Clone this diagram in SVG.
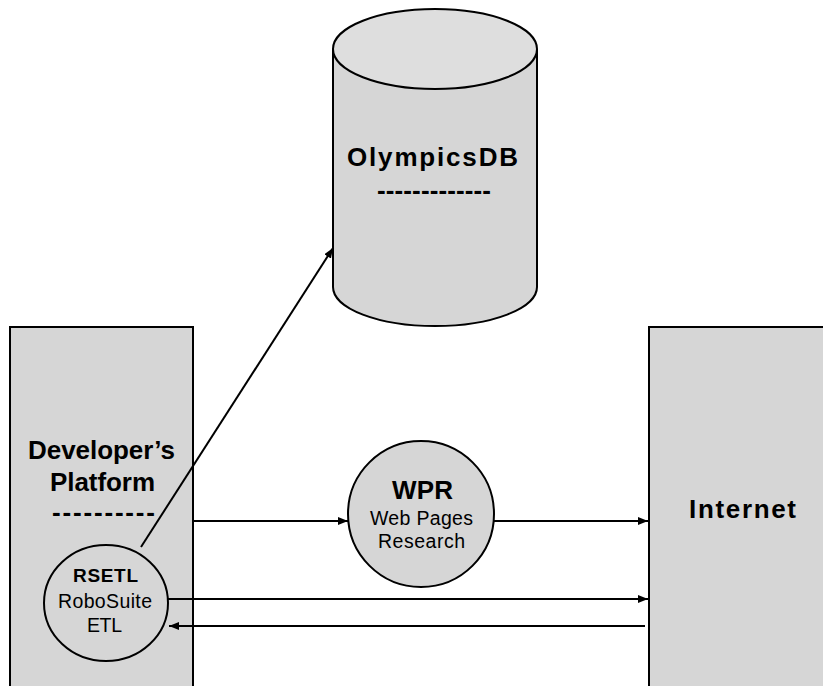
<svg xmlns="http://www.w3.org/2000/svg" width="823" height="686" viewBox="0 0 823 686">
  <style>
    .shape { fill: #d6d6d6; stroke: #000; stroke-width: 2; }
    .cap { fill: #dedede; stroke: #000; stroke-width: 2; }
    .edge { fill: none; stroke: #000; stroke-width: 2; }
    .lbl { font-family: "Liberation Sans", Arial, Helvetica, sans-serif; fill: #000; text-anchor: middle; }
    .big { font-size: 26px; font-weight: bold; }
    .mid { font-size: 19px; font-weight: bold; }
    .small { font-size: 19.5px; }
  </style>
  <defs>
    <marker id="arrow" markerUnits="userSpaceOnUse" markerWidth="10" markerHeight="8" refX="10" refY="4" orient="auto">
      <path d="M0,0 L10,4 L0,8 z" fill="#000"/>
    </marker>
  </defs>
  <rect width="823" height="686" fill="#fff"/>

  <!-- database cylinder -->
  <g id="olympicsdb">
    <path class="shape" d="M333,49 L333,287 A102,39 0 0 0 537,287 L537,49"/>
    <ellipse class="cap" cx="435" cy="49" rx="102" ry="40"/>
    <text class="lbl big" x="432.5" y="166" font-size="28" textLength="171" lengthAdjust="spacing">OlympicsDB</text>
    <text class="lbl big" x="434" y="199" textLength="114" lengthAdjust="spacing">-------------</text>
  </g>

  <!-- developer platform block -->
  <g id="developer-platform">
    <rect class="shape" x="10" y="327" width="183" height="400"/>
    <text class="lbl big" x="101.5" y="459" textLength="147" lengthAdjust="spacing">Developer’s</text>
    <text class="lbl big" x="102.5" y="491" textLength="105" lengthAdjust="spacing">Platform</text>
    <text class="lbl big" x="103.5" y="521" textLength="103" lengthAdjust="spacing">----------</text>
  </g>

  <!-- internet block -->
  <g id="internet">
    <rect class="shape" x="649" y="327" width="200" height="400"/>
    <text class="lbl big" x="742.5" y="518" textLength="107" lengthAdjust="spacing">Internet</text>
  </g>

  <!-- web pages research process -->
  <g id="wpr">
    <circle class="shape" cx="421" cy="514" r="73"/>
    <text class="lbl big" x="422.5" y="499" textLength="61" lengthAdjust="spacing">WPR</text>
    <text class="lbl small" x="421.5" y="525" textLength="103" lengthAdjust="spacing">Web Pages</text>
    <text class="lbl small" x="421.5" y="548" textLength="87" lengthAdjust="spacing">Research</text>
  </g>

  <!-- RoboSuite ETL process -->
  <g id="rsetl">
    <ellipse class="shape" cx="106" cy="603" rx="62" ry="58"/>
    <text class="lbl mid" x="105.5" y="582" textLength="65" lengthAdjust="spacing">RSETL</text>
    <text class="lbl small" x="105" y="608" textLength="94" lengthAdjust="spacing">RoboSuite</text>
    <text class="lbl small" x="104.5" y="632" textLength="35" lengthAdjust="spacing">ETL</text>
  </g>

  <!-- connectors -->
  <g id="connectors">
    <line class="edge" x1="141" y1="547" x2="333" y2="248" marker-end="url(#arrow)"/>
    <line class="edge" x1="193" y1="521" x2="348" y2="521" marker-end="url(#arrow)"/>
    <line class="edge" x1="494" y1="521" x2="648" y2="521" marker-end="url(#arrow)"/>
    <line class="edge" x1="168" y1="599" x2="648" y2="599" marker-end="url(#arrow)"/>
    <line class="edge" x1="645" y1="626" x2="169" y2="626" marker-end="url(#arrow)"/>
  </g>
</svg>
